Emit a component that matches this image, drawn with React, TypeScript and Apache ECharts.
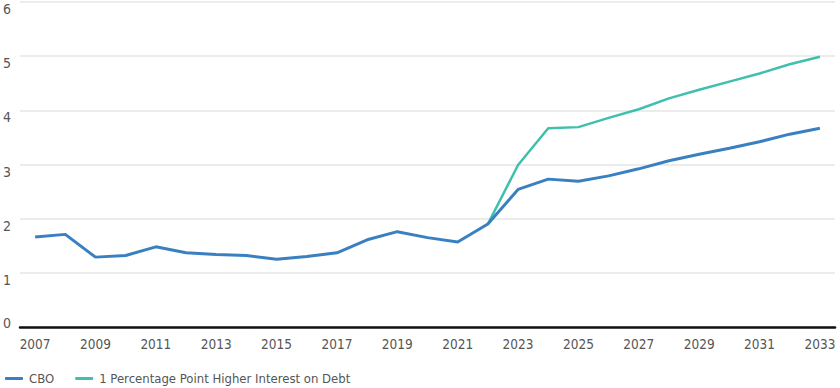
import React, { useEffect, useRef } from "react";
import * as echarts from "echarts";

const years = [
  "2007","2008","2009","2010","2011","2012","2013","2014","2015","2016","2017","2018","2019","2020",
  "2021","2022","2023","2024","2025","2026","2027","2028","2029","2030","2031","2032","2033",
];
const cbo = [
  1.66, 1.71, 1.29, 1.32, 1.48, 1.37, 1.34, 1.32, 1.25, 1.3, 1.37, 1.61, 1.76, 1.65,
  1.57, 1.9, 2.54, 2.73, 2.69, 2.79, 2.92, 3.07, 3.19, 3.3, 3.42, 3.56, 3.67,
];
const higherInterest = [
  null, null, null, null, null, null, null, null, null, null, null, null, null, null,
  null, 1.9, 2.99, 3.67, 3.69, 3.86, 4.02, 4.22, 4.38, 4.53, 4.68, 4.85, 4.99,
];
const seriesNames = ["CBO", "1 Percentage Point Higher Interest on Debt"];
const yTicks = [0, 1, 2, 3, 4, 5, 6];

const FONT = '"Liberation Sans Narrow", "DejaVu Sans Condensed", "Roboto", sans-serif';
const BLUE = "#3a80c0";
const TEAL = "#3fbfae";

export default function App() {
  const ref = useRef<HTMLDivElement>(null);
  useEffect(() => {
    if (!ref.current) return;
    const chart = echarts.init(ref.current, null, { renderer: "svg" });
    chart.setOption({
      animation: false,
      textStyle: { fontFamily: FONT },
      grid: { left: 20, right: 5, top: 2, bottom: 61, containLabel: false },
      legend: {
        left: 0,
        top: 367,
        itemWidth: 18,
        itemHeight: 3,
        itemGap: 21,
        icon: "roundRect",
        textStyle: { fontFamily: FONT, fontSize: 13, color: "#555", padding: [0, 0, 0, 1] },
        data: seriesNames,
      },
      xAxis: {
        type: "category",
        data: years,
        boundaryGap: true,
        axisLine: { show: true, lineStyle: { color: "#111", width: 2.5 } },
        axisTick: { show: false },
        axisLabel: {
          interval: 1,
          fontFamily: FONT,
          fontSize: 13.5,
          color: "#555",
          margin: 10,
        },
      },
      yAxis: {
        type: "value",
        min: yTicks[0],
        max: yTicks[yTicks.length - 1],
        interval: 1,
        axisLine: { show: false },
        axisTick: { show: false },
        splitLine: { lineStyle: { color: "#e6e6e6", width: 1.5 } },
        axisLabel: {
          align: "left",
          margin: 17,
          formatter: (v: number) => (v === 0 ? "{z|0}" : "{a|" + v + "}"),
          rich: {
            a: { fontFamily: FONT, fontSize: 14, color: "#555", padding: [14, 0, 0, 0] },
            z: { fontFamily: FONT, fontSize: 14, color: "#555", padding: [0, 0, 8, 0] },
          },
        },
      },
      series: [
        {
          name: seriesNames[0],
          type: "line",
          data: cbo,
          symbol: "none",
          z: 3,
          lineStyle: { color: BLUE, width: 3 },
          itemStyle: { color: BLUE },
        },
        {
          name: seriesNames[1],
          type: "line",
          data: higherInterest,
          symbol: "none",
          z: 2,
          lineStyle: { color: TEAL, width: 2.5 },
          itemStyle: { color: TEAL },
        },
      ],
    });
    return () => chart.dispose();
  }, []);
  return (
    <div
      ref={ref}
      style={{ position: "fixed", left: 0, top: 0, width: 840, height: 388, background: "#fff" }}
    />
  );
}
